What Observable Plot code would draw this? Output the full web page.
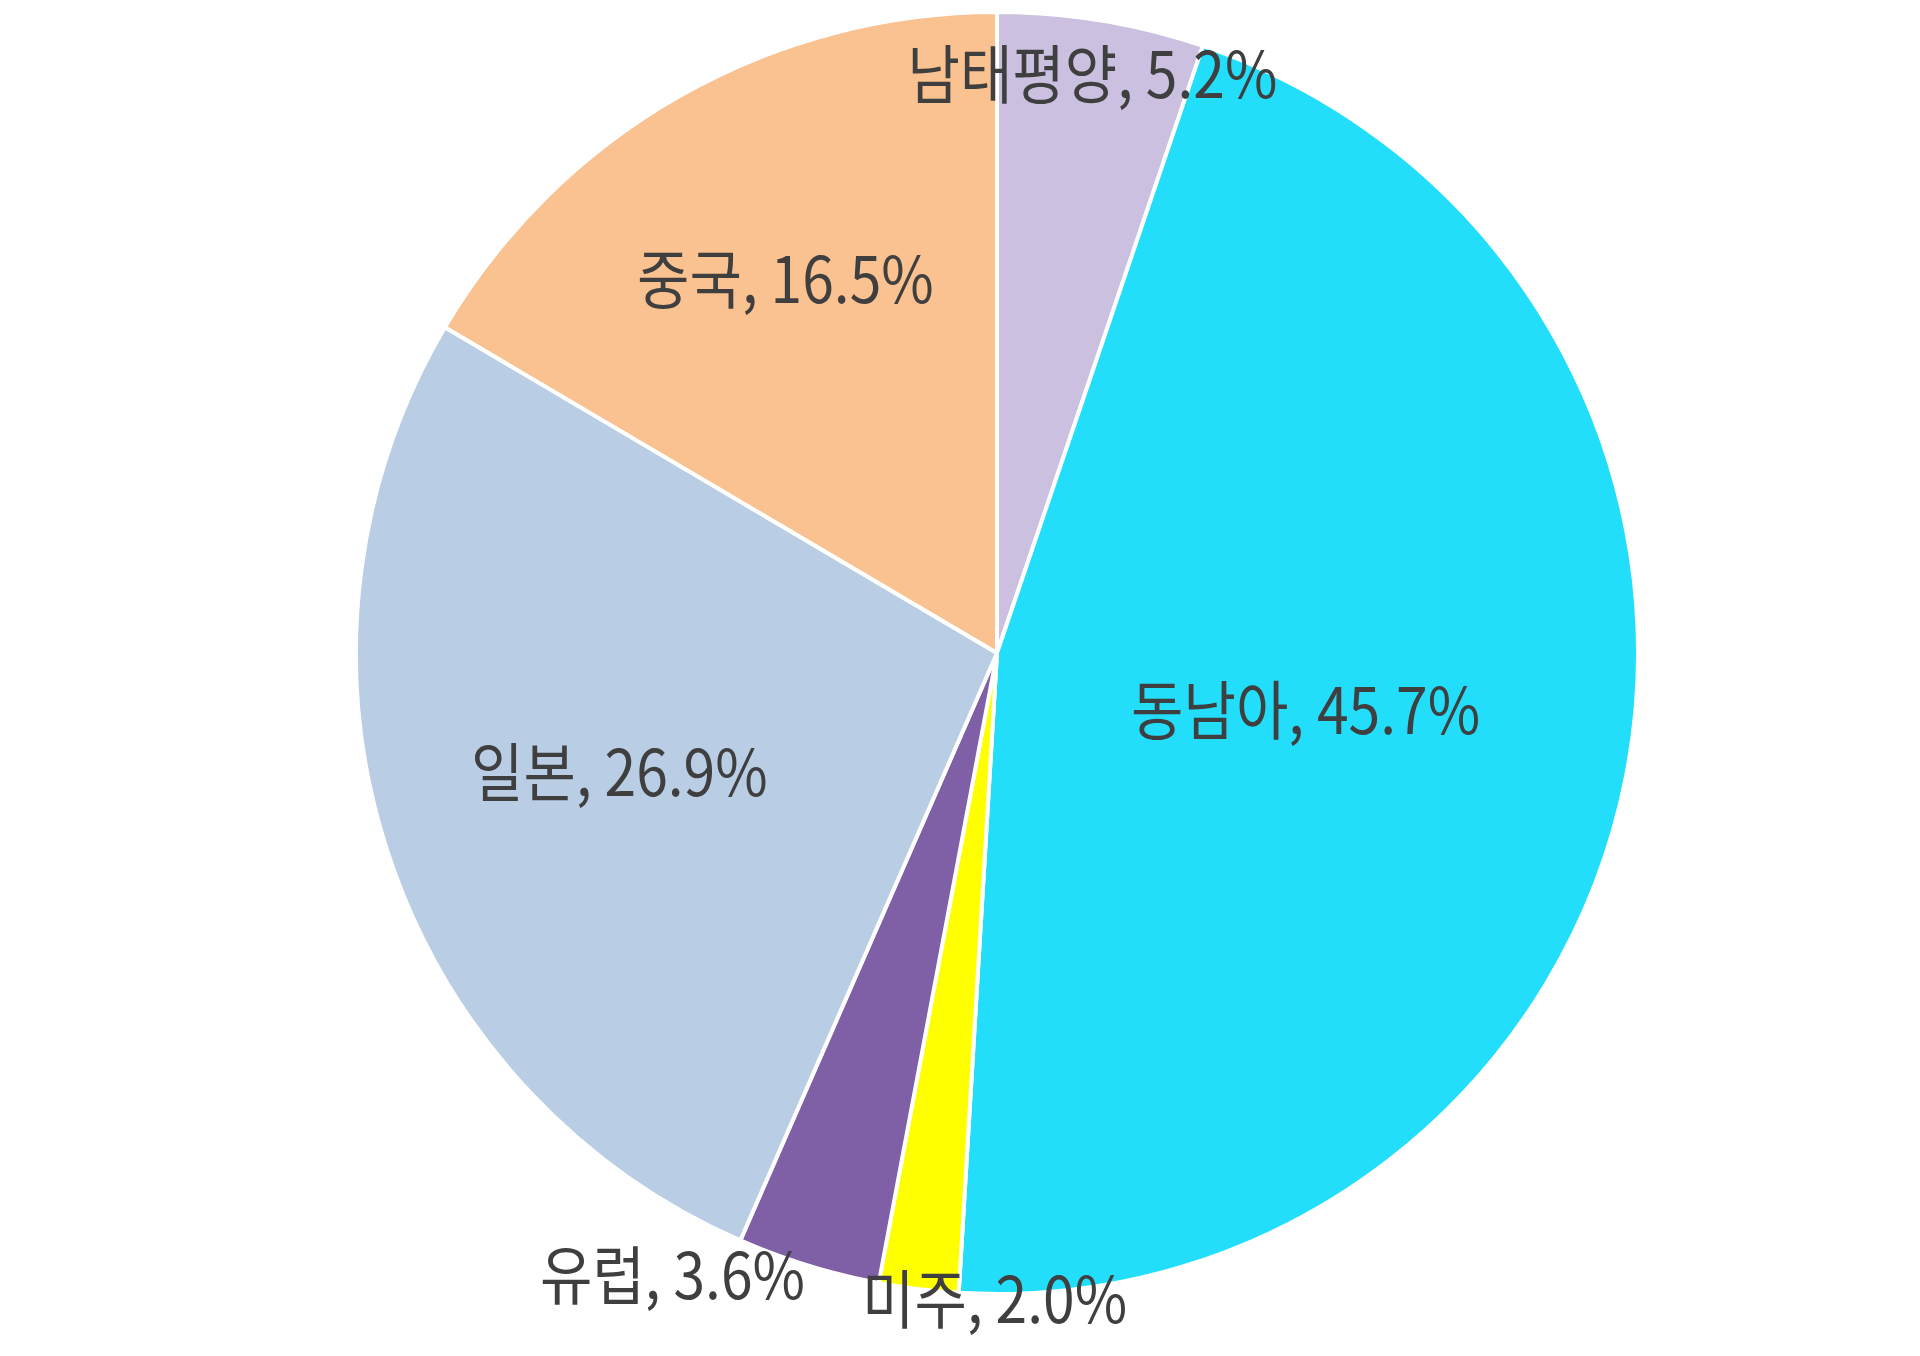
<!DOCTYPE html>
<html>
<head>
<meta charset="utf-8">
<script src="https://cdn.jsdelivr.net/npm/d3@7"></script>
<script src="https://cdn.jsdelivr.net/npm/@observablehq/plot@0.6"></script>
<style>
  html, body { margin: 0; padding: 0; background: #ffffff; }
  #chart { width: 1920px; height: 1356px; }
</style>
</head>
<body>
<div id="chart"></div>
<script>
// Data (clockwise from 12 o'clock)
const names = ["남태평양", "동남아", "미주", "유럽", "일본", "중국"];
const values = [5.2, 45.7, 2.0, 3.6, 26.9, 16.5];
const colors = ["#CBC0DF", "#22DEFB", "#FFFF00", "#7F5FA6", "#B9CDE5", "#FAC191"];

const data = names.map((name, i) => ({ name, value: values[i] }));
const color = Plot.scale({ color: { type: "ordinal", domain: names, range: colors } });
const arcs = d3.pie().sort(null).value(d => d.value)(data);

const W = 1920, H = 1356;
const cx = 997, cy = 653, R = 641;
const FONT_SIZE = 57;
const FONT_FAMILY = "Noto Sans CJK KR, Noto Sans, sans-serif";

// measure text widths
const ctx = document.createElement("canvas").getContext("2d");
ctx.font = `${FONT_SIZE}px ${FONT_FAMILY}`;

// Label placement rule (Excel-like): large slices inside at the sector centroid,
// medium ones near the rim, tiny ones outside with simple collision avoidance.
const placed = arcs.map(a => {
  const mid = (a.startAngle + a.endAngle) / 2;
  const half = (a.endAngle - a.startAngle) / 2;
  const v = a.data.value;
  const label = `${a.data.name}, ${v.toFixed(1)}%`;
  const w = ctx.measureText(label).width;
  const sx = Math.sin(mid), sy = Math.cos(mid);
  let px, py; // pixel offsets from centre (y up)
  if (v < 4) {
    const f = 1.02;
    px = sx * f * R; py = sy * f * R;
    if (sx < -0.2) px -= w / 2;
    else if (sx > 0.2) px += w / 2;
  } else if (v < 10) {
    px = sx * 0.91 * R; py = sy * 0.91 * R;
  } else {
    const d = (2 / 3) * Math.sin(half) / half + 0.03;
    px = sx * d * R; py = sy * d * R;
  }
  return { label, w, px, py, outside: v < 4 };
});

// collision avoidance among outside labels (push later ones to the right)
const outside = placed.filter(d => d.outside).sort((a, b) => a.px - b.px);
for (let i = 1; i < outside.length; i++) {
  const p = outside[i - 1], q = outside[i];
  const vOverlap = Math.abs(p.py - q.py) < FONT_SIZE * 1.2;
  const minLeft = p.px + p.w / 2 + FONT_SIZE;
  if (vOverlap && q.px - q.w / 2 < minLeft) q.px = minLeft + q.w / 2;
}

const labels = placed.map(d => ({ label: d.label, x: d.px / R, y: d.py / R }));

const pieMark = (index, scales) => {
  const x0 = scales.x(0), y0 = scales.y(0);
  const r = scales.x(1) - scales.x(0);
  const arc = d3.arc().innerRadius(0).outerRadius(r);
  const g = d3.create("svg:g").attr("transform", `translate(${x0},${y0})`);
  g.selectAll("path")
    .data(arcs)
    .join("path")
    .attr("d", arc)
    .attr("fill", d => color.apply(d.data.name))
    .attr("stroke", "#ffffff")
    .attr("stroke-width", 4)
    .attr("stroke-linejoin", "round");
  return g.node();
};

const chart = Plot.plot({
  width: W,
  height: H,
  marginLeft: cx - R,
  marginRight: W - (cx + R),
  marginTop: cy - R,
  marginBottom: H - (cy + R),
  x: { domain: [-1, 1], axis: null },
  y: { domain: [-1, 1], axis: null },
  style: { background: "#ffffff", overflow: "visible" },
  marks: [
    pieMark,
    Plot.text(labels, {
      x: "x", y: "y", text: "label",
      textAnchor: "middle",
      fill: "#3f3f3f",
      fontSize: FONT_SIZE,
      fontFamily: FONT_FAMILY
    })
  ]
});

// slightly taller glyphs, as in the reference
d3.select(chart).selectAll('g[aria-label="text"] text').each(function () {
  const t = this.getAttribute("transform") || "";
  this.setAttribute("transform", `${t} scale(1,1.12)`);
});

document.getElementById("chart").appendChild(chart);
</script>
</body>
</html>
